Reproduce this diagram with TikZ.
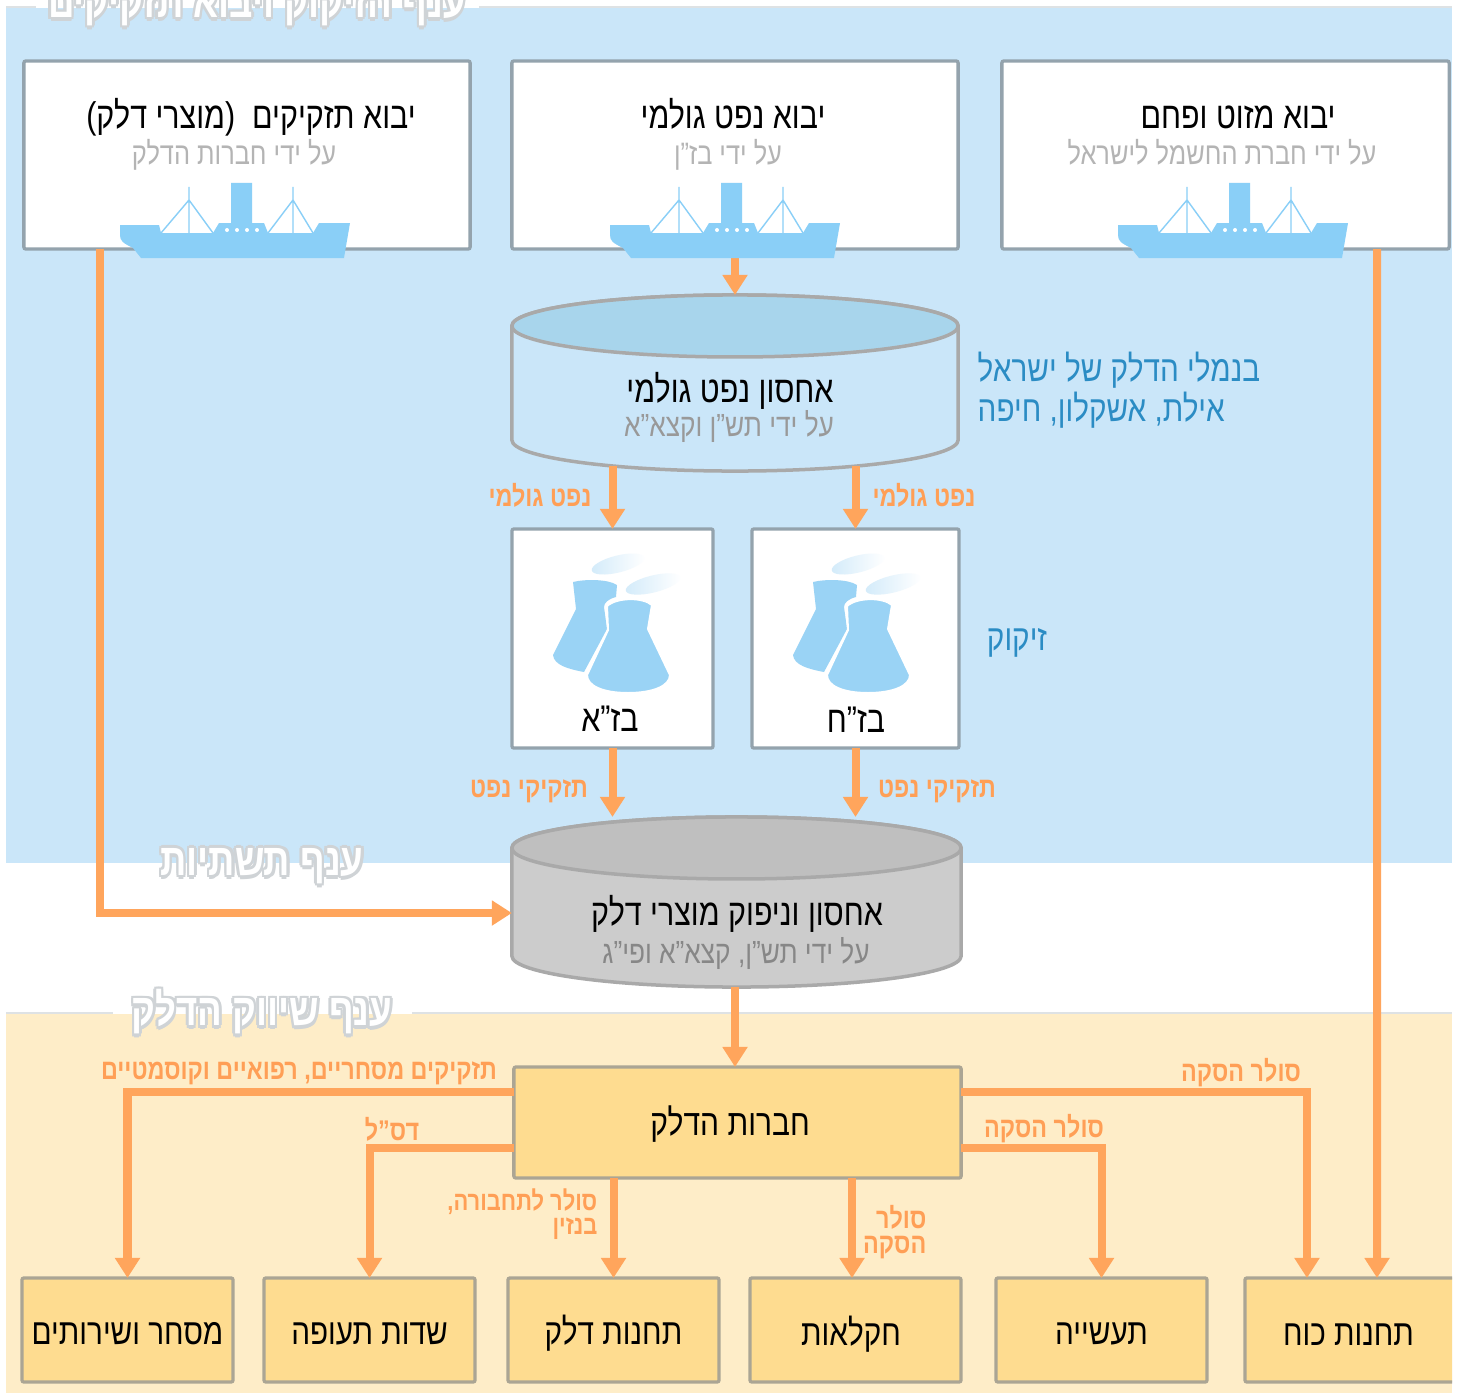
\documentclass[tikz,border=0pt]{standalone}
\usepackage{fontspec}
\usepackage{xcolor}
\setmainfont[Script=Hebrew,FakeStretch=0.82]{Liberation Sans}
\TeXXeTstate=1
\usetikzlibrary{arrows.meta,calc}
\definecolor{seablue}{HTML}{CAE6F9}
\definecolor{sand}{HTML}{FEEDC8}
\definecolor{edge}{HTML}{DEE2E4}
\definecolor{boxgray}{HTML}{94A3AD}
\definecolor{saleline}{HTML}{ABA594}
\definecolor{salefill}{HTML}{FEDC90}
\definecolor{tankline}{HTML}{A9A9A9}
\definecolor{cruderim}{HTML}{A8D5EC}
\definecolor{storebody}{HTML}{CCCCCC}
\definecolor{storetop}{HTML}{BFBFBF}
\definecolor{flow}{HTML}{FFA55C}
\definecolor{flowtext}{HTML}{FF9F56}
\definecolor{sidetext}{HTML}{2B8CC4}
\definecolor{subtext}{HTML}{B4B4B4}
\definecolor{shipblue}{HTML}{8ACFF7}
\definecolor{towerblue}{HTML}{9AD3F5}
\definecolor{smoke}{HTML}{D3EBFA}
\definecolor{halo}{HTML}{CFD3D6}
\tikzset{
  whitebox/.style={draw=boxgray, fill=white, line width=0.033cm, rounded corners=0.02cm, inner sep=0pt, outer sep=0pt},
  salebox/.style={draw=saleline, fill=salefill, line width=0.033cm, rounded corners=0.02cm, inner sep=0pt, outer sep=0pt,
    minimum width=2.11cm, minimum height=1.04cm, font=\fontsize{10.3}{12}\selectfont, text height=0.8em, text depth=0pt},
  tankspot/.style={inner sep=0pt, outer sep=0pt},
  tanklinestyle/.style={draw=tankline, line width=0.035cm},
  flowline/.style={draw=flow, line width=0.08cm, -{Triangle[width=0.24cm,length=0.2cm]}},
  headtxt/.style={font=\fontsize{10.55}{12}\selectfont, inner sep=0pt, text height=0.78em, text depth=0pt},
  subtxt/.style={font=\fontsize{8.8}{10}\selectfont, text=subtext, inner sep=0pt, text height=0.66em, text depth=0pt},
  flowtxt/.style={font=\fontsize{8.1}{7}\selectfont\bfseries, text=flowtext, inner sep=0pt, align=right},
  flowone/.style={flowtxt, text height=0.66em, text depth=0pt},
  sidetxt/.style={font=\fontsize{10.3}{11.4}\selectfont, text=sidetext, inner sep=0pt, align=left},
  branchtxt/.style={font=\fontsize{12.7}{14}\selectfont\bfseries, text=white, inner sep=0pt},
  ship/.pic={
    \fill[shipblue] (0,42) -- (39,42) -- (41,50) -- (93,50) -- (99,40) -- (111,40) -- (111,0) -- (132,0) -- (132,40)
      -- (144,40) -- (148,50) -- (193,50) -- (199,40) -- (230,40) -- (224,75) -- (21,75) -- (13,65)
      .. controls (3,60) and (0,58) .. (0,52) -- cycle;
    \draw[shipblue, line width=0.4pt] (69,4) -- (69,50) (41,50) -- (69,17) -- (93,50);
    \draw[shipblue, line width=0.4pt] (173,4) -- (173,50) (148,50) -- (173,17) -- (193,50);
    \foreach \px in {107,117,127,137} \fill[white] (\px,47) circle (0.02cm);
  },
  refinery/.pic={
    \shade[left color=smoke, right color=white, rotate around={14:(65,11)}] (65,11) ellipse (0.27cm and 0.085cm);
    \shade[left color=smoke, right color=white, rotate around={14:(100,31)}] (100,31) ellipse (0.28cm and 0.085cm);
    \fill[towerblue] (20,29) .. controls (32,26) and (55,26) .. (64,32) -- (63,44) .. controls (55,46) and (51,50) .. (51,54)
      -- (54,76) -- (31,119) .. controls (15,116) and (1,112) .. (0,102) -- (23,56) -- cycle;
    \filldraw[towerblue, draw=white, line width=0.02cm] (54,53) .. controls (64,44) and (90,44) .. (99,52) -- (95,76) -- (117,122)
      .. controls (117,133) and (100,140) .. (75,140) .. controls (50,140) and (34,133) .. (34,122) -- (55,77) -- cycle;
  }
}
\newcommand{\heb}[1]{\beginR #1\endR}
\newcommand{\TankAt}[4]{%
  \draw[tanklinestyle, fill=#2] ([yshift=-0.31cm]#1.north west) arc[start angle=180, end angle=0, x radius=#4cm, y radius=0.31cm]
    -- ([yshift=0.31cm]#1.south east) arc[start angle=0, end angle=-180, x radius=#4cm, y radius=0.31cm] -- cycle;
  \draw[tanklinestyle, fill=#3] ([yshift=-0.31cm]#1.north) ellipse[x radius=#4cm, y radius=0.31cm];
}
\newcommand{\BranchAt}[3]{%
  \foreach \dx/\dy [count=\i] in {-0.7/0,0.7/0,0/0.7,0/-0.7,-0.6/-0.6,0.6/-0.6,-0.6/0.6,0.6/0.6,0/-1.1}
    \node[branchtxt, text=halo] (#1h\i) at ([xshift=\dx pt,yshift=\dy pt]#2) {#3};
  \node[branchtxt] (#1) at (#2) {#3};
}

\begin{document}
\begin{tikzpicture}[x=0.01cm, y=-0.01cm]
  \useasboundingbox (0,0) rectangle (1458,1394);
  \fill[white] (0,0) rectangle (1458,1394);

  % branches
  \fill[seablue] (6,8) rectangle (1452,863);
  \fill[sand] (6,1014) rectangle (1452,1393);
  \draw[edge, line width=0.02cm] (6,7.5) -- (36,7.5) (479,7.5) -- (1452,7.5);
  \draw[edge, line width=0.02cm] (6,1013) -- (113,1013) (412,1013) -- (1452,1013);
  \BranchAt{refbranch}{257,8}{\heb{ענף הזיקוק ויבוא תזקיקים}}
  \BranchAt{infrabranch}{262,866}{\heb{ענף תשתיות}}
  \BranchAt{salebranch}{262,1012}{\heb{ענף שיווק הדלק}}

  % import boxes
  \node[whitebox, minimum width=4.46cm, minimum height=1.88cm] (impRef) at (247,155) {};
  \node[whitebox, minimum width=4.46cm, minimum height=1.88cm] (impCrude) at (735,155) {};
  \node[whitebox, minimum width=4.47cm, minimum height=1.88cm] (impCoal) at (1225.5,155) {};
  \node[headtxt] (impRefA) at (251,115) {\heb{יבוא תזקיקים \ (מוצרי דלק)}};
  \node[subtxt] (impRefB) at (234,153) {\heb{על ידי חברות הדלק}};
  \node[headtxt] (impCrudeA) at (733,115) {\heb{יבוא נפט גולמי}};
  \node[subtxt] (impCrudeB) at (728,153) {\heb{על ידי בז"ן}};
  \node[headtxt] (impCoalA) at (1238,115) {\heb{יבוא מזוט ופחם}};
  \node[subtxt] (impCoalB) at (1222,153) {\heb{על ידי חברת החשמל לישראל}};

  % tanks
  \node[tankspot, minimum width=4.46cm, minimum height=1.76cm] (crude) at (735,383) {};
  \TankAt{crude}{seablue}{cruderim}{2.23}
  \node[headtxt] (crudeA) at (730,389) {\heb{אחסון נפט גולמי}};
  \node[subtxt, font=\fontsize{9.1}{10}\selectfont, text=subtext!85!black] (crudeB) at (729,425) {\heb{על ידי תש"ן וקצא"א}};
  \node[tankspot, minimum width=4.49cm, minimum height=1.70cm] (store) at (736.5,902) {};
  \TankAt{store}{storebody}{storetop}{2.245}
  \node[headtxt] (storeA) at (737,912) {\heb{אחסון וניפוק מוצרי דלק}};
  \node[subtxt, font=\fontsize{9.1}{10}\selectfont, text=subtext!75!black] (storeB) at (736,952) {\heb{על ידי תש"ן, קצא"א ופי"ג}};

  % refineries
  \node[whitebox, minimum width=2.01cm, minimum height=2.19cm] (bza) at (612.5,638.5) {};
  \node[whitebox, minimum width=2.07cm, minimum height=2.19cm] (bzh) at (855.5,638.5) {};
  \pic at (553,553) {refinery};
  \pic at (793,553) {refinery};
  \node[headtxt] (bzaA) at (610,718) {\heb{בז"א}};
  \node[headtxt] (bzhA) at (856,719) {\heb{בז"ח}};

  % sale boxes
  \node[salebox, minimum width=4.47cm, minimum height=1.11cm] (fuel) at (737.5,1122.5) {};
  \node[headtxt, font=\fontsize{10.4}{12}\selectfont] (fuelA) at (730,1122) {\heb{חברות הדלק}};
  \node[salebox] (comm) at (127.5,1330) {\heb{מסחר ושירותים}};
  \node[salebox] (air) at (369.5,1330) {\heb{שדות תעופה}};
  \node[salebox] (station) at (613.5,1330) {\heb{תחנות דלק}};
  \node[salebox] (agri) at (855.5,1330) {};
  \node[headtxt, font=\fontsize{10.3}{12}\selectfont] (agriA) at (851,1332) {\heb{חקלאות}};
  \node[salebox] (industry) at (1101.5,1330) {\heb{תעשייה}};
  \begin{scope}
    \clip (1200,1250) rectangle (1452,1394);
    \node[salebox] (power) at (1350.5,1330) {};
    \node[headtxt, font=\fontsize{10.3}{12}\selectfont] (powerA) at (1348.5,1332) {\heb{תחנות כוח}};
  \end{scope}

  % connectors
  \draw[flowline] ([xshift=-1.47cm]impRef.south) |- ([yshift=-0.11cm]store.west);
  \draw[flowline] (impCrude.south) -- (crude.north);
  \draw[flowline] ([yshift=0.05cm]bza.north |- crude.south) -- (bza.north);
  \draw[flowline] ([yshift=0.05cm]bzh.north |- crude.south) -- (bzh.north);
  \draw[flowline] (bza.south) -- (bza.south |- store.north);
  \draw[flowline] (bzh.south) -- (bzh.south |- store.north);
  \draw[flowline] ([xshift=-0.015cm]store.south) -- ([xshift=-0.025cm]fuel.north);
  \draw[flowline] ([yshift=0.305cm]fuel.west) -| (comm.north);
  \draw[flowline] ([yshift=-0.255cm]fuel.west) -| (air.north);
  \draw[flowline] (station.north |- fuel.south) -- (station.north);
  \draw[flowline] ([xshift=-0.035cm]agri.north |- fuel.south) -- ([xshift=-0.035cm]agri.north);
  \draw[flowline] ([yshift=-0.255cm]fuel.east) -| (industry.north);
  \draw[flowline] ([yshift=0.305cm]fuel.east) -| ([xshift=-0.435cm]power.north);
  \draw[flowline] ([xshift=1.515cm]impCoal.south) -- ([xshift=0.265cm]power.north);

  % ships
  \pic at (120,183) {ship};
  \pic at (610,183) {ship};
  \pic at (1118,183) {ship};

  % flow labels
  \node[flowone] (lbCrudeA) at (540,495) {\heb{נפט גולמי}};
  \node[flowone] (lbCrudeH) at (924,495) {\heb{נפט גולמי}};
  \node[flowone] (lbOilA) at (529,786) {\heb{תזקיקי נפט}};
  \node[flowone] (lbOilH) at (937,786) {\heb{תזקיקי נפט}};
  \node[flowone] (lbComm) at (299,1068) {\heb{תזקיקים מסחריים, רפואיים וקוסמטיים}};
  \node[flowone] (lbAir) at (392,1129) {\heb{דס"ל}};
  \node[flowtxt, font=\fontsize{7.6}{7}\selectfont\bfseries, anchor=east] (lbStation) at (598,1214) {\heb{סולר לתחבורה,}\\\heb{בנזין}};
  \node[flowtxt, anchor=east] (lbAgri) at (927,1232) {\heb{סולר}\\\heb{הסקה}};
  \node[flowone] (lbInd) at (1044,1126) {\heb{סולר הסקה}};
  \node[flowone] (lbPower) at (1241,1070) {\heb{סולר הסקה}};

  % side labels
  \node[sidetxt, anchor=west] (ports) at (977,390) {\heb{בנמלי הדלק של ישראל}\\\heb{אילת, אשקלון, חיפה}};
  \node[sidetxt, text height=0.66em, text depth=0pt] (refining) at (1017,639) {\heb{זיקוק}};
\end{tikzpicture}
\end{document}
